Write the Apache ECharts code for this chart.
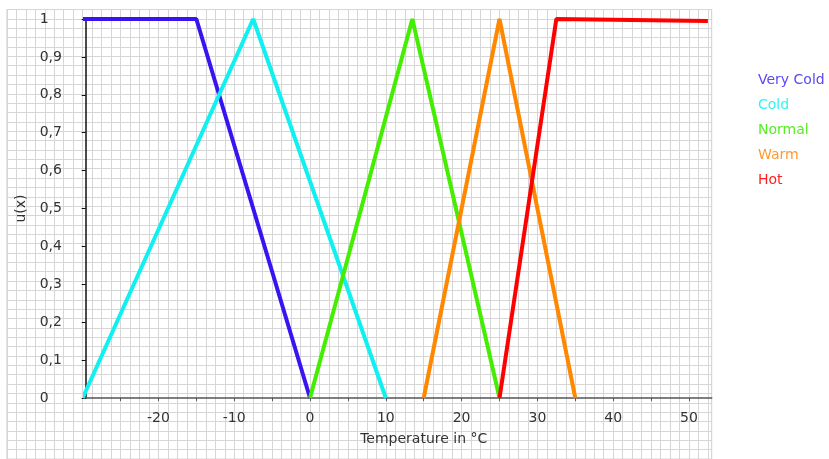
<!DOCTYPE html>
<html>
<head>
<meta charset="utf-8">
<script src="https://cdn.jsdelivr.net/npm/echarts@6/dist/echarts.min.js"></script>
<style>
  html, body { margin: 0; padding: 0; background: #fff; }
  #chart { width: 829px; height: 459px; }
</style>
</head>
<body>
<div id="chart"></div>
<script>
// Fuzzy membership functions for temperature, each as [°C, membership] vertices
const veryCold = [[-30, 1], [-15, 1], [0, 0]];
const cold     = [[-30, 0], [-7.5, 1], [10, 0]];
const normal   = [[0, 0], [13.5, 1], [25, 0]];
const warm     = [[15, 0], [25, 1], [35, 0]];
const hot      = [[25, 0], [32.5, 1], [52.5, 0.995]];

const seriesNames = ['Very Cold', 'Cold', 'Normal', 'Warm', 'Hot'];
const seriesData  = [veryCold, cold, normal, warm, hot];
const lineColors  = ['#3a14f0', '#10f0f0', '#44ee00', '#ff8800', '#ff0000'];
const labelColors = ['#5a48f4', '#30f4f4', '#55ee22', '#ff9a30', '#ff2020'];

// visible temperature range and the span that carries ticks and labels
const xRange = [-29.6, 53];
const xTickRange = [-25, 50];
const yRange = [0, 1];

const FONT = 'DejaVu Sans';

// plot area in pixels; other grids are derived from the same scale
const plotLeft = 85.7, plotRight = 711.7, plotTop = 19, plotBottom = 398;
const W = 829, H = 459;
const pxPerUnit = (plotRight - plotLeft) / (xRange[1] - xRange[0]);
const xPx = v => plotLeft + (v - xRange[0]) * pxPerUnit;
const pyPerUnit = (plotBottom - plotTop) / (yRange[1] - yRange[0]);

// graph-paper background extent (in data units, on 1.25 °C x 0.025 squares)
const paperX = [-40, 53];
const paperY = [-0.175, 1.025];

const chart = echarts.init(document.getElementById('chart'), null, { renderer: 'canvas' });

chart.setOption({
  animation: false,
  backgroundColor: '#ffffff',
  textStyle: { fontFamily: FONT },
  grid: [
    // graph paper
    { left: xPx(paperX[0]), right: W - plotRight,
      top: plotBottom - paperY[1] * pyPerUnit, height: (paperY[1] - paperY[0]) * pyPerUnit,
      show: true, borderColor: '#d6d6d6', borderWidth: 1, backgroundColor: 'transparent' },
    // plotting area
    { left: plotLeft, right: W - plotRight, top: plotTop, bottom: H - plotBottom },
    // tick/label strip for the temperature axis
    { left: xPx(xTickRange[0]), right: W - xPx(xTickRange[1]), top: plotTop, bottom: H - plotBottom }
  ],
  legend: {
    orient: 'vertical',
    left: 747,
    top: 68,
    icon: 'rect',
    itemWidth: 1,
    itemHeight: 14,
    itemGap: 11,
    selectedMode: false,
    itemStyle: { opacity: 0 },
    lineStyle: { opacity: 0 },
    textStyle: { fontFamily: FONT, fontSize: 14 },
    data: seriesNames.map((n, i) => ({ name: n, textStyle: { color: labelColors[i] } }))
  },
  xAxis: [
    {
      gridIndex: 0, type: 'value', min: paperX[0], max: paperX[1], interval: 1.25,
      axisLine: { show: false }, axisTick: { show: false }, axisLabel: { show: false },
      splitLine: { show: true, lineStyle: { color: '#d6d6d6', width: 1 } }
    },
    {
      gridIndex: 1, type: 'value', min: xRange[0], max: xRange[1],
      name: 'Temperature in °C', nameLocation: 'middle', nameGap: 34,
      nameTextStyle: { color: '#333', fontSize: 14, fontFamily: FONT, padding: [0, 0, 0, 50] },
      axisLine: { show: true, onZero: false, lineStyle: { color: '#555', width: 1.5 } },
      axisTick: { show: false },
      axisLabel: { show: false },
      splitLine: { show: false }
    },
    {
      gridIndex: 2, type: 'value', min: xTickRange[0], max: xTickRange[1], interval: 5,
      axisLine: { show: false },
      axisTick: { show: true, inside: false, length: 3, lineStyle: { color: '#555' } },
      axisLabel: {
        show: true, color: '#333', fontSize: 14, fontFamily: FONT, margin: 13,
        formatter: v => (Math.abs(v % 10) < 1e-9 ? String(v) : '')
      },
      splitLine: { show: false }
    }
  ],
  yAxis: [
    {
      gridIndex: 0, type: 'value', min: paperY[0], max: paperY[1], interval: 0.025,
      axisLine: { show: false }, axisTick: { show: false }, axisLabel: { show: false },
      splitLine: { show: true, lineStyle: { color: '#d6d6d6', width: 1 } }
    },
    {
      gridIndex: 1, type: 'value', min: yRange[0], max: yRange[1], interval: 0.1,
      name: 'u(x)', nameLocation: 'middle', nameGap: 56,
      nameTextStyle: { color: '#333', fontSize: 14, fontFamily: FONT },
      axisLine: { show: true, onZero: false, lineStyle: { color: '#111', width: 1.5 } },
      axisTick: { show: true, inside: false, length: 4, lineStyle: { color: '#111' } },
      axisLabel: {
        color: '#333', fontSize: 14, fontFamily: FONT, margin: 46, align: 'left',
        padding: [4, 0, 0, 0],
        formatter: v => {
          if (Math.abs(v) < 1e-9) return '0';
          if (Math.abs(v - 1) < 1e-9) return '1';
          return v.toFixed(1).replace('.', ',');
        }
      },
      splitLine: { show: false }
    },
    {
      gridIndex: 2, type: 'value', min: yRange[0], max: yRange[1], show: false
    }
  ],
  series: seriesNames.map((name, i) => ({
    name: name,
    type: 'line',
    xAxisIndex: 1,
    yAxisIndex: 1,
    data: seriesData[i],
    showSymbol: false,
    symbol: 'none',
    clip: true,
    color: lineColors[i],
    lineStyle: { color: lineColors[i], width: 4 },
    z: 3
  }))
});
</script>
</body>
</html>
